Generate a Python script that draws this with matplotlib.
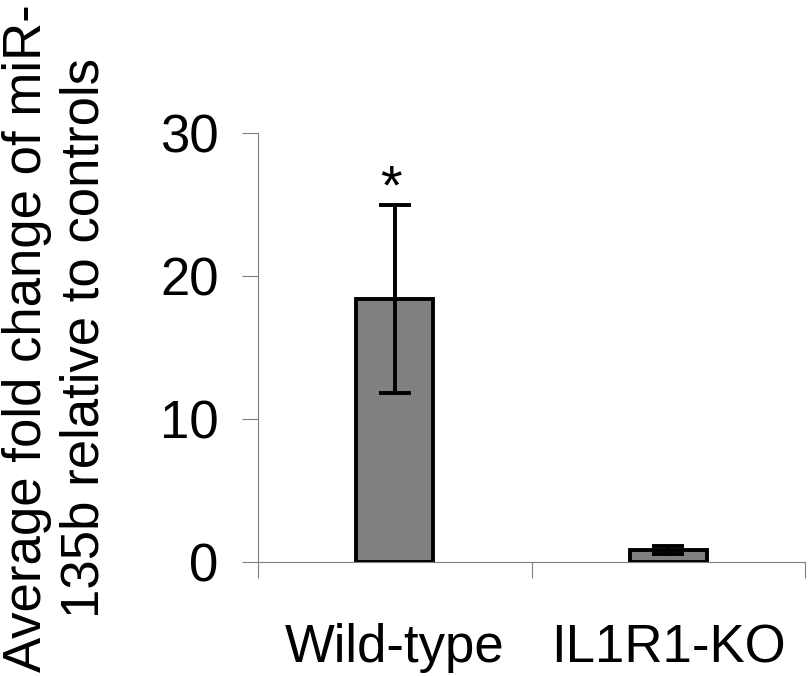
import numpy as np
import matplotlib
matplotlib.use("Agg")
import matplotlib.pyplot as plt

plt.rcParams['font.family'] = ['Liberation Sans', 'DejaVu Sans']

groups = ["Wild-type", "IL1R1-KO"]
fold_change = [18.4, 0.85]
err = [6.6, 0.3]
stars = ["*", ""]

fig = plt.figure(figsize=(8.12, 6.76), dpi=100)
ax = fig.add_axes([258/812, 1 - 562/676, (805 - 258)/812, (562 - 133)/676])

x = np.arange(len(groups))
ax.bar(x, fold_change, width=0.28, color='#808080', edgecolor='black', linewidth=2.8,
       yerr=err, error_kw=dict(ecolor='black', elinewidth=2.8, capsize=11.5, capthick=2.8))

for i in range(len(groups)):
    if stars[i]:
        ax.text(x[i] - 0.012, fold_change[i] + err[i] + 0.1, stars[i], ha='center', va='baseline',
                fontsize=40)

ax.set_xlim(-0.5, 1.5)
ax.set_ylim(0, 30)
ax.set_yticks([0, 10, 20, 30])
ax.set_xticks([-0.5, 0.5, 1.5], minor=False)
ax.set_xticklabels([])
ax.set_xticks(x, minor=True)
ax.set_xticklabels(groups, minor=True)
ax.tick_params(axis='x', which='minor', length=0, pad=44, labelsize=38)
ax.tick_params(axis='x', which='major', length=11.5, width=0.8, color='#808080')
ax.tick_params(axis='y', length=11.5, width=0.8, color='#808080', pad=17, labelsize=38)
for lab in ax.get_yticklabels():
    lab.set_y(lab.get_position()[1])

for s in ['top', 'right']:
    ax.spines[s].set_visible(False)
for s in ['left', 'bottom']:
    ax.spines[s].set_color('#808080')
    ax.spines[s].set_linewidth(0.8)

fig.text(0.002, 0.5, "Average fold change of miR-\n135b relative to controls", rotation=90,
         ha='left', va='center', multialignment='center', fontsize=38)

fig.savefig('out.png', dpi=100)
